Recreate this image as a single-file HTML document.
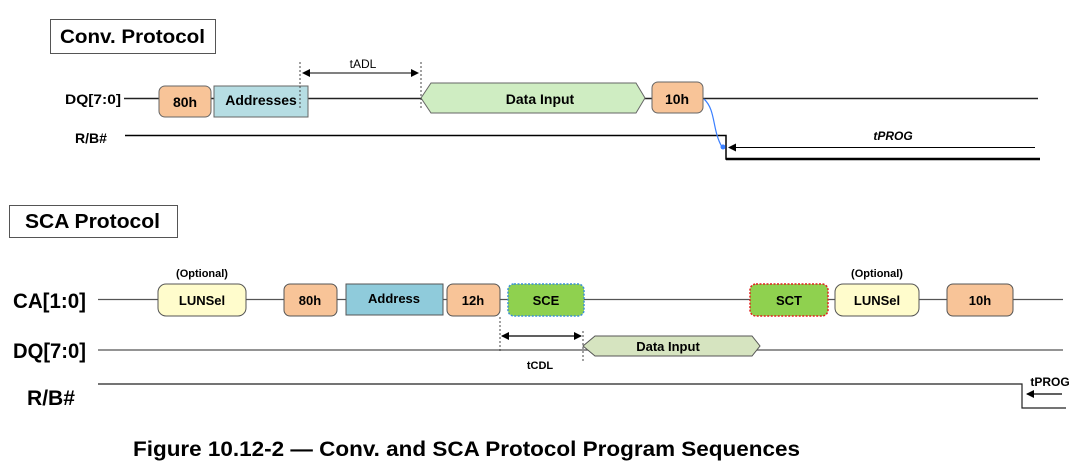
<!DOCTYPE html>
<html><head><style>
html,body{margin:0;padding:0;background:#fff;}
svg{display:block;font-family:"Liberation Sans",Arial,sans-serif;}
</style></head><body>
<svg width="1083" height="468" viewBox="0 0 1083 468" xmlns="http://www.w3.org/2000/svg">
<defs>
<marker id="ah" markerWidth="8" markerHeight="8" refX="7" refY="4" orient="auto" markerUnits="userSpaceOnUse"><path d="M0,0 L8,4 L0,8 z" fill="#000"/></marker>
<marker id="ahs" markerWidth="8" markerHeight="8" refX="1" refY="4" orient="auto" markerUnits="userSpaceOnUse"><path d="M8,0 L0,4 L8,8 z" fill="#000"/></marker>
</defs>
<!-- Conv -->
<rect x="50.5" y="19.5" width="165" height="34" fill="#fff" stroke="#555"/>
<text x="60" y="43" font-size="19" font-weight="bold" textLength="145" lengthAdjust="spacingAndGlyphs">Conv. Protocol</text>
<text x="65" y="104" font-size="14" font-weight="bold" textLength="56" lengthAdjust="spacingAndGlyphs">DQ[7:0]</text>
<line x1="124" y1="98.5" x2="1038" y2="98.5" stroke="#222" stroke-width="1.5"/>
<rect x="159" y="86" width="52" height="31" rx="6" fill="#f8c498" stroke="#666"/>
<text x="185" y="107" font-size="14" font-weight="bold" text-anchor="middle">80h</text>
<rect x="214" y="86" width="94" height="31" fill="#b6dde3" stroke="#666"/>
<text x="261" y="105" font-size="14" font-weight="bold" text-anchor="middle">Addresses</text>
<path d="M421,98 L431,83 L636,83 L645,98 L636,113 L431,113 Z" fill="#cfedc2" stroke="#666"/>
<text x="540" y="104" font-size="14" font-weight="bold" text-anchor="middle">Data Input</text>
<rect x="652" y="82" width="51" height="31" rx="6" fill="#f8c498" stroke="#666"/>
<text x="677" y="104" font-size="14" font-weight="bold" text-anchor="middle">10h</text>
<line x1="300" y1="62" x2="300" y2="110" stroke="#444" stroke-dasharray="2,2"/>
<line x1="421" y1="62" x2="421" y2="110" stroke="#444" stroke-dasharray="2,2"/>
<line x1="303" y1="73" x2="418" y2="73" stroke="#000" marker-end="url(#ah)" marker-start="url(#ahs)"/>
<text x="363" y="68" font-size="12" text-anchor="middle">tADL</text>
<text x="75" y="143" font-size="14" font-weight="bold" textLength="32" lengthAdjust="spacingAndGlyphs">R/B#</text>
<polyline points="125,135.5 726,135.5 726,159 1040,159" fill="none" stroke="#000" stroke-width="1.5"/>
<polyline points="726,159 1040,159" fill="none" stroke="#000" stroke-width="2.5"/>
<line x1="1035" y1="147.5" x2="729" y2="147.5" stroke="#000" marker-end="url(#ah)"/>
<text x="893" y="140" font-size="12" font-weight="bold" font-style="italic" text-anchor="middle">tPROG</text>
<path d="M704,99 C716,110 712,130 722,147" fill="none" stroke="#3a7fff" stroke-width="1.2"/>
<circle cx="723" cy="147" r="2.5" fill="#3a7fff"/>
<!-- SCA -->
<rect x="9.5" y="205.5" width="168" height="32" fill="#fff" stroke="#555"/>
<text x="25" y="228" font-size="20" font-weight="bold" textLength="135" lengthAdjust="spacingAndGlyphs">SCA Protocol</text>
<text x="13" y="308" font-size="21" font-weight="bold" textLength="73" lengthAdjust="spacingAndGlyphs">CA[1:0]</text>
<line x1="98" y1="299.5" x2="1063" y2="299.5" stroke="#555" stroke-width="1.2"/>
<text x="202" y="277" font-size="11" font-weight="bold" text-anchor="middle">(Optional)</text>
<rect x="158" y="284" width="88" height="32" rx="8" fill="#fffccc" stroke="#555"/>
<text x="202" y="305" font-size="13" font-weight="bold" text-anchor="middle">LUNSel</text>
<rect x="284" y="284" width="53" height="32" rx="6" fill="#f8c498" stroke="#555"/>
<text x="310" y="305" font-size="13" font-weight="bold" text-anchor="middle">80h</text>
<rect x="346" y="284" width="97" height="31" fill="#8fcbdb" stroke="#555"/>
<text x="394" y="303" font-size="13" font-weight="bold" text-anchor="middle">Address</text>
<rect x="447" y="284" width="53" height="32" rx="6" fill="#f8c498" stroke="#555"/>
<text x="473" y="305" font-size="13" font-weight="bold" text-anchor="middle">12h</text>
<rect x="508" y="284" width="76" height="32" rx="6" fill="#8fd14f" stroke="#3a8fd6" stroke-dasharray="2,1.5" stroke-width="1.5"/>
<text x="546" y="305" font-size="13" font-weight="bold" text-anchor="middle">SCE</text>
<rect x="750" y="284" width="78" height="32" rx="6" fill="#8fd14f" stroke="#e02020" stroke-dasharray="2,1.5" stroke-width="1.5"/>
<text x="789" y="305" font-size="13" font-weight="bold" text-anchor="middle">SCT</text>
<text x="877" y="277" font-size="11" font-weight="bold" text-anchor="middle">(Optional)</text>
<rect x="835" y="284" width="84" height="32" rx="8" fill="#fffccc" stroke="#555"/>
<text x="877" y="305" font-size="13" font-weight="bold" text-anchor="middle">LUNSel</text>
<rect x="947" y="284" width="66" height="32" rx="6" fill="#f8c498" stroke="#555"/>
<text x="980" y="305" font-size="13" font-weight="bold" text-anchor="middle">10h</text>
<text x="13" y="358" font-size="21" font-weight="bold" textLength="73" lengthAdjust="spacingAndGlyphs">DQ[7:0]</text>
<line x1="98" y1="350" x2="1063" y2="350" stroke="#555" stroke-width="1.2"/>
<path d="M583,346 L595,336 L752,336 L760,346 L752,356 L595,356 Z" fill="#d6e4c0" stroke="#555"/>
<text x="668" y="351" font-size="13" font-weight="bold" text-anchor="middle">Data Input</text>
<line x1="500" y1="317" x2="500" y2="351" stroke="#444" stroke-dasharray="2,2"/>
<line x1="583" y1="331" x2="583" y2="361" stroke="#444" stroke-dasharray="2,2"/>
<line x1="502" y1="336" x2="581" y2="336" stroke="#000" stroke-width="1.3" marker-end="url(#ah)" marker-start="url(#ahs)"/>
<text x="540" y="369" font-size="11" font-weight="bold" text-anchor="middle">tCDL</text>
<text x="27" y="405" font-size="21" font-weight="bold" textLength="48" lengthAdjust="spacingAndGlyphs">R/B#</text>
<polyline points="98,384 1022,384 1022,408 1066,408" fill="none" stroke="#222" stroke-width="1.2"/>
<line x1="1062" y1="394" x2="1027" y2="394" stroke="#000" stroke-width="1.3" marker-end="url(#ah)"/>
<text x="1050" y="386" font-size="12" font-weight="bold" text-anchor="middle">tPROG</text>
<text x="133" y="456" font-size="21" font-weight="bold" textLength="667" lengthAdjust="spacingAndGlyphs">Figure 10.12-2 — Conv. and SCA Protocol Program Sequences</text>
</svg>
</body></html>
